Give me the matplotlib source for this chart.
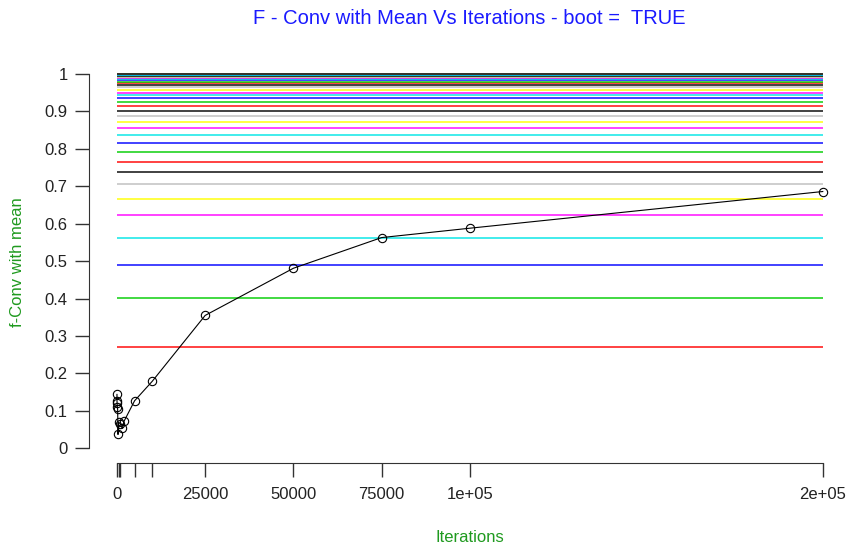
import matplotlib
matplotlib.use("Agg")
import matplotlib.pyplot as plt

plt.rcParams['font.family'] = ['Liberation Sans', 'DejaVu Sans']

# ---------------- DATA ---------------- #
iterations = [10, 20, 50, 100, 200, 300, 500, 1000, 1500, 2000, 5000, 10000,
              25000, 50000, 75000, 100000, 200000]
f_conv_mean = [0.144, 0.126, 0.120, 0.111, 0.104, 0.037, 0.070, 0.065, 0.053,
               0.072, 0.127, 0.179, 0.355, 0.481, 0.563, 0.588, 0.686]

# reference levels, one horizontal line each
ref_levels = [0.272, 0.402, 0.490, 0.563, 0.623, 0.667, 0.705, 0.737,
              0.766, 0.791, 0.815, 0.836, 0.856, 0.872, 0.887, 0.901,
              0.914, 0.926, 0.937, 0.944, 0.950, 0.957, 0.964, 0.970,
              0.975, 0.979, 0.983, 0.986, 0.989, 0.991, 0.993, 0.995,
              0.996, 0.997, 0.998, 0.9985, 0.999, 0.9994, 0.9997, 1.000]

x_ticks = [0, 500, 1000, 5000, 10000, 25000, 50000, 75000, 100000, 200000]
x_tick_labels = ["0", "", "", "", "", "25000", "50000", "75000", "1e+05", "2e+05"]
y_ticks = [0, 0.1, 0.2, 0.3, 0.4, 0.5, 0.6, 0.7, 0.8, 0.9, 1]
y_tick_labels = ["0", "0.1", "0.2", "0.3", "0.4", "0.5", "0.6", "0.7", "0.8", "0.9", "1"]

# R style palette: red, green3, blue, cyan, magenta, yellow, gray, black
palette = ["#ff0000", "#00cd00", "#0000ff", "#00e5e5", "#ff00ff",
           "#ffff00", "#bebebe", "#000000"]


def create_plot(output_filename="out.png"):
    """Draw f-conv with mean against iterations and save it."""
    fig = plt.figure(figsize=(8.51, 5.5), dpi=100)
    ax = fig.add_axes([88.7 / 851, (550 - 463.3) / 550,
                       (851 - 88.7) / 851, (463.3 - 59) / 550])

    x_max = iterations[-1]
    for i, level in enumerate(ref_levels):
        ax.plot([0, x_max], [level, level], color=palette[i % len(palette)],
                lw=1.3, alpha=0.8, solid_capstyle="butt", zorder=2)

    ax.plot(iterations, f_conv_mean, color="black", lw=0.8, marker="o",
            markersize=6, markerfacecolor="none", markeredgewidth=0.8, zorder=3)

    ax.set_xlim(-0.04 * x_max, 1.04 * x_max)
    ax.set_ylim(-0.04, 1.04)

    # axes drawn R style: detached lines covering the tick range only
    for side in ["top", "right"]:
        ax.spines[side].set_visible(False)
    ax.spines["left"].set_bounds(0, 1)
    ax.spines["bottom"].set_bounds(0, x_max)
    ax.spines["left"].set_color("#333333")
    ax.spines["bottom"].set_color("#333333")

    ax.set_xticks(x_ticks)
    ax.set_xticklabels(x_tick_labels)
    ax.set_yticks(y_ticks)
    ax.set_yticklabels(y_tick_labels)
    ax.tick_params(axis="both", direction="out", length=10, width=1,
                   color="#333333", labelsize=12, labelcolor="#222222")
    ax.tick_params(axis="y", pad=5)
    ax.tick_params(axis="x", pad=7)

    fig.text(469 / 851, 1 - 18 / 550, "F - Conv with Mean Vs Iterations - boot =  TRUE",
             color="#1a1aff", fontsize=14.5, ha="center", va="center")
    fig.text(470 / 851, 1 - 537 / 550, "Iterations", color="#1f9a1f",
             fontsize=12, ha="center", va="center")
    fig.text(18 / 851, 1 - 262 / 550, "f-Conv with mean", color="#1f9a1f",
             fontsize=12, ha="center", va="center", rotation=90)

    fig.savefig(output_filename, dpi=100)
    return output_filename


def main():
    output_file = create_plot()
    print(f'Plot saved as {output_file}')


if __name__ == "__main__":
    main()
